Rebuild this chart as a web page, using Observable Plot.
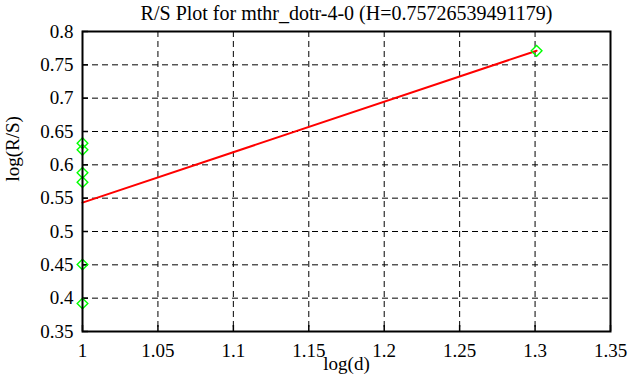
<!DOCTYPE html>
<html>
<head>
<meta charset="utf-8">
<script src="https://cdn.jsdelivr.net/npm/d3@7"></script>
<script src="https://cdn.jsdelivr.net/npm/@observablehq/plot@0.6"></script>
<style>
  html, body { margin: 0; padding: 0; background: #fff; }
  svg text { font-family: "Liberation Serif", "Times New Roman", serif; }
</style>
</head>
<body>
<div id="chart"></div>
<script>
const title = "R/S Plot for mthr_dotr-4-0 (H=0.75726539491179)";
const xLabel = "log(d)";
const yLabel = "log(R/S)";
const logD = [1, 1, 1, 1, 1, 1, 1.30103];
const logRS = [0.6325, 0.6225, 0.588, 0.574, 0.4505, 0.392, 0.771];
const fitX = [1, 1.30103];
const fitY = [0.5433, 0.7712];
const xTicks = [1, 1.05, 1.1, 1.15, 1.2, 1.25, 1.3, 1.35];
const yTicks = [0.35, 0.4, 0.45, 0.5, 0.55, 0.6, 0.65, 0.7, 0.75, 0.8];

const points = logD.map((d, i) => ({x: d, y: logRS[i]}));
const fit = fitX.map((d, i) => ({x: d, y: fitY[i]}));
const serif = "Liberation Serif, Times New Roman, serif";

const chart = Plot.plot({
  width: 631,
  height: 387,
  marginLeft: 82,
  marginRight: 21,
  marginTop: 31,
  marginBottom: 56,
  style: {fontFamily: serif, fontSize: "19px", background: "#fff", color: "#000"},
  x: {domain: [1, 1.35]},
  y: {domain: [0.35, 0.8]},
  marks: [
    Plot.gridX(xTicks, {stroke: "#000", strokeOpacity: 1, strokeDasharray: "6,4", strokeWidth: 1}),
    Plot.gridY(yTicks, {stroke: "#000", strokeOpacity: 1, strokeDasharray: "6,4", strokeWidth: 1}),
    Plot.axisX({ticks: xTicks, tickSize: 0, tickPadding: 12, tickFormat: d => String(d), label: null, fontFamily: serif, fontSize: 19, fontVariant: "normal"}),
    Plot.axisY({ticks: yTicks, tickSize: 0, tickPadding: 9, tickFormat: d => String(d), label: null, fontFamily: serif, fontSize: 19, fontVariant: "normal"}),
    Plot.axisX({ticks: xTicks, anchor: "bottom", tickSize: -6, tickFormat: () => "", label: null, strokeWidth: 1.5}),
    Plot.axisY({ticks: yTicks, anchor: "left", tickSize: -6, tickFormat: () => "", label: null, strokeWidth: 1.5}),
    Plot.line(fit, {x: "x", y: "y", stroke: "#ff0000", strokeWidth: 2}),
    Plot.dot(points, {x: "x", y: "y", symbol: "diamond2", r: 4.8, stroke: "#00ff00", strokeWidth: 1.4, fill: "none"}),
    Plot.frame({stroke: "#000", strokeWidth: 2}),
    Plot.text([title], {frameAnchor: "top", lineAnchor: "bottom", dy: -12, text: d => d, fontSize: 20, fontFamily: serif}),
    Plot.text([xLabel], {frameAnchor: "bottom", lineAnchor: "top", dy: 25, text: d => d, fontSize: 19, fontFamily: serif}),
    Plot.text([yLabel], {frameAnchor: "left", rotate: -90, dx: -70, text: d => d, fontSize: 19, fontFamily: serif})
  ]
});
document.getElementById("chart").appendChild(chart);
</script>
</body>
</html>
